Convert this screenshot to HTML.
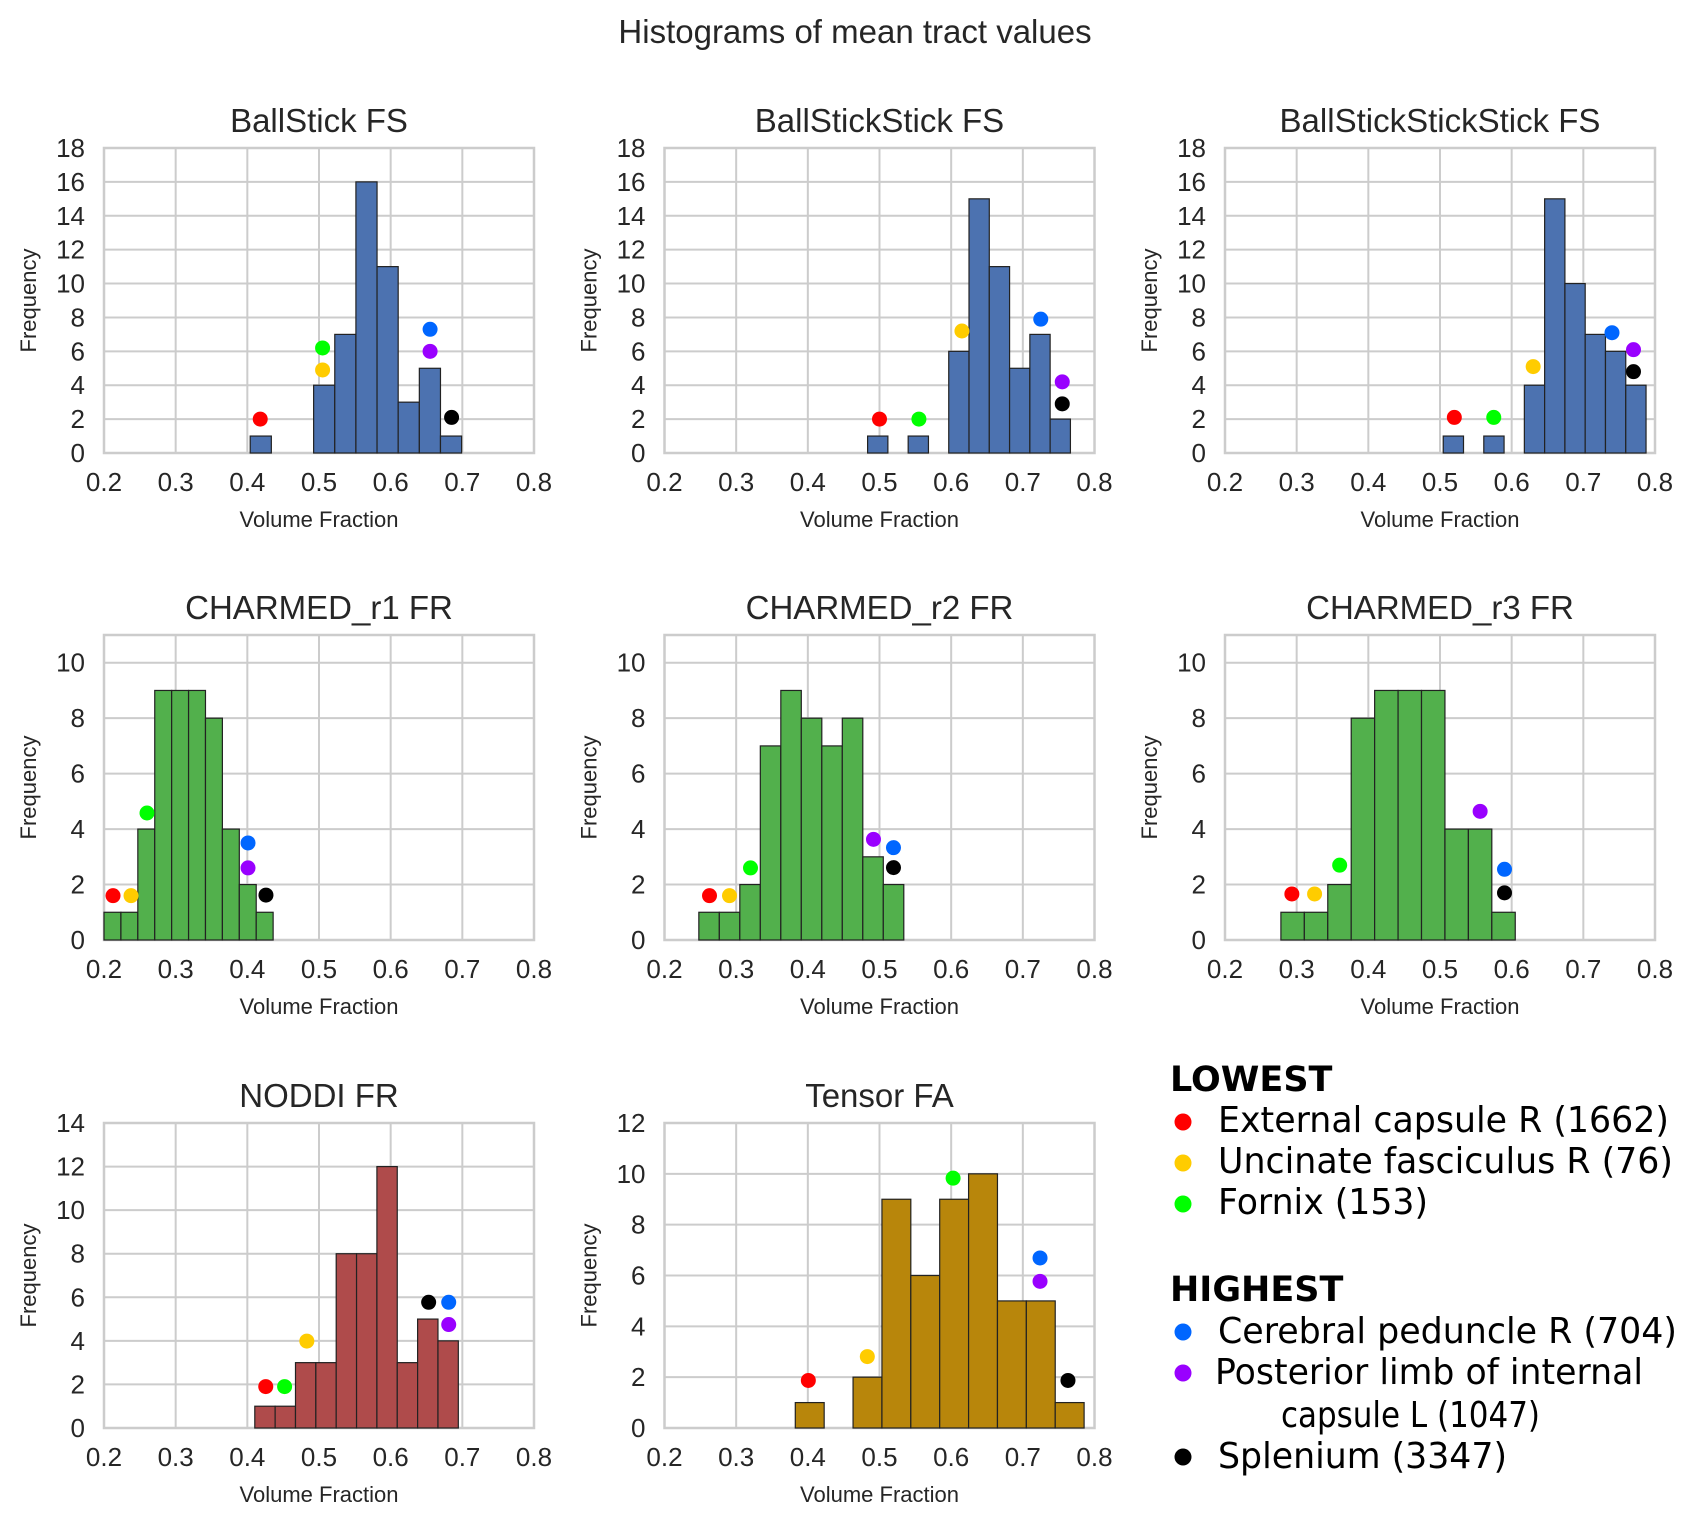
<!DOCTYPE html>
<html><head><meta charset="utf-8"><style>
html,body{margin:0;padding:0;background:#fff}
svg{display:block}
text{font-family:"Liberation Sans",Arial,sans-serif;fill:#262626}
.lg{font-family:"DejaVu Sans",sans-serif;fill:#000}
</style></head><body>
<svg id="fig" width="1693" height="1527" viewBox="0 0 1693 1527" xmlns="http://www.w3.org/2000/svg">
<text x="855" y="43" font-size="33" text-anchor="middle">Histograms of mean tract values</text>
<g id="legend" transform="translate(-4,0)">
<text class="lg" x="1174" y="1091" font-size="35" font-weight="bold">LOWEST</text>
<circle cx="1187" cy="1122" r="8.5" fill="#ff0000"/>
<text class="lg" x="1222" y="1132" font-size="36" textLength="451" lengthAdjust="spacingAndGlyphs">External capsule R (1662)</text>
<circle cx="1187" cy="1163" r="8.5" fill="#ffcc00"/>
<text class="lg" x="1222" y="1173" font-size="36" textLength="455" lengthAdjust="spacingAndGlyphs">Uncinate fasciculus R (76)</text>
<circle cx="1187" cy="1204" r="8.5" fill="#00ff00"/>
<text class="lg" x="1222" y="1214" font-size="36" textLength="210" lengthAdjust="spacingAndGlyphs">Fornix (153)</text>
<text class="lg" x="1174" y="1301" font-size="35" font-weight="bold">HIGHEST</text>
<circle cx="1187" cy="1332" r="8.5" fill="#0066ff"/>
<text class="lg" x="1222" y="1343" font-size="36" textLength="459" lengthAdjust="spacingAndGlyphs">Cerebral peduncle R (704)</text>
<circle cx="1187" cy="1373" r="8.5" fill="#9900ff"/>
<text class="lg" x="1219" y="1384" font-size="36" textLength="428" lengthAdjust="spacingAndGlyphs">Posterior limb of internal</text>
<text class="lg" x="1285" y="1427" font-size="36" textLength="259" lengthAdjust="spacingAndGlyphs">capsule L (1047)</text>
<circle cx="1187" cy="1457" r="8.5" fill="#000000"/>
<text class="lg" x="1222" y="1468" font-size="36" textLength="289" lengthAdjust="spacingAndGlyphs">Splenium (3347)</text>
</g>
</svg>
<script>
const titles = ["BallStick FS","BallStickStick FS","BallStickStickStick FS","CHARMED_r1 FR","CHARMED_r2 FR","CHARMED_r3 FR","NODDI FR","Tensor FA"];
const binStarts = [0.404,0.4834,0.5045,0.2,0.2479,0.278,0.4104,0.3825];
const binWidths = [0.0295,0.0283,0.0283,0.0236,0.0286,0.0327,0.0284,0.0403];
const counts0 = [1,0,0,4,7,16,11,3,5,1];
const counts1 = [1,0,1,0,6,15,11,5,7,2];
const counts2 = [1,0,1,0,4,15,10,7,6,4];
const counts3 = [1,1,4,9,9,9,8,4,2,1];
const counts4 = [1,1,2,7,9,8,7,8,3,2];
const counts5 = [1,1,2,8,9,9,9,4,4,1];
const counts6 = [1,1,3,3,8,8,12,3,5,4];
const counts7 = [1,0,2,9,6,9,10,5,5,1];
const yMaxes = [18,18,18,11,11,11,14,12];
const yTickMax = [18,18,18,10,10,10,14,12];
const xTicks = [0.2,0.3,0.4,0.5,0.6,0.7,0.8];
const xTickLabels = ["0.2","0.3","0.4","0.5","0.6","0.7","0.8"];
const dotNames = ["external-capsule","uncinate","fornix","cerebral-peduncle","posterior-limb","splenium"];
const dotColors = ["#ff0000","#ffcc00","#00ff00","#0066ff","#9900ff","#000000"];
const dotX0 = [0.418,0.505,0.505,0.655,0.655,0.685];
const dotY0 = [2.0,4.9,6.2,7.3,6.0,2.1];
const dotX1 = [0.5,0.615,0.555,0.725,0.755,0.755];
const dotY1 = [2.0,7.2,2.0,7.9,4.2,2.9];
const dotX2 = [0.52,0.63,0.575,0.74,0.77,0.77];
const dotY2 = [2.1,5.1,2.1,7.1,6.1,4.8];
const dotX3 = [0.2126,0.2377,0.26,0.401,0.401,0.426];
const dotY3 = [1.6,1.6,4.58,3.5,2.6,1.62];
const dotX4 = [0.2628,0.2907,0.32,0.5195,0.4916,0.5195];
const dotY4 = [1.6,1.6,2.6,3.33,3.63,2.61];
const dotX5 = [0.2933,0.325,0.36,0.59,0.556,0.59];
const dotY5 = [1.66,1.66,2.7,2.55,4.64,1.7];
const dotX6 = [0.4257,0.483,0.452,0.681,0.681,0.653];
const dotY6 = [1.9,3.99,1.9,5.77,4.75,5.77];
const dotX7 = [0.4007,0.483,0.6027,0.724,0.724,0.763];
const dotY7 = [1.87,2.81,9.83,6.69,5.77,1.87];
const allCounts=[counts0,counts1,counts2,counts3,counts4,counts5,counts6,counts7];
const allDX=[dotX0,dotX1,dotX2,dotX3,dotX4,dotX5,dotX6,dotX7];
const allDY=[dotY0,dotY1,dotY2,dotY3,dotY4,dotY5,dotY6,dotY7];
const barColors=["#4c72b0","#4c72b0","#4c72b0","#52b04c","#52b04c","#52b04c","#af4b4b","#b8860b"];
const colLeft=[104,664.5,1225], rowTop=[148,635,1123], W=430, H=305;
const NS="http://www.w3.org/2000/svg";
const svg=document.getElementById("fig");
function mk(tag,attrs,parent){const e=document.createElementNS(NS,tag);for(const k in attrs)e.setAttribute(k,attrs[k]);parent.appendChild(e);return e;}
for(let p=0;p<8;p++){
  const L=colLeft[p%3], T=rowTop[Math.floor(p/3)], B=T+H;
  const xs=v=>L+(v-0.2)/0.6*W;
  const ys=v=>B-v/yMaxes[p]*H;
  const slug=titles[p].toLowerCase().replace(/[^a-z0-9]+/g,"-");
  const g=mk("g",{},svg);
  
  
  const bg=mk("rect",{x:L,y:T,width:W,height:H,fill:"#fff"},g);
  
  
  const t=mk("text",{x:L+W/2,y:T-16,"font-size":33,"text-anchor":"middle"},g);
  t.textContent=titles[p];
  
  
  for(let i=0;i<xTicks.length;i++){
    const x=xs(xTicks[i]);
    const gl=mk("line",{x1:x,x2:x,y1:T,y2:B,stroke:"#cccccc","stroke-width":2},g);
    
    
    const tl=mk("text",{x:x,y:B+38,"font-size":26,"text-anchor":"middle"},g);
    tl.textContent=xTickLabels[i];
    
    
  }
  for(let v=0;v<=yTickMax[p];v+=2){
    const y=ys(v);
    const gl=mk("line",{x1:L,x2:L+W,y1:y,y2:y,stroke:"#cccccc","stroke-width":2},g);
    
    
    const tl=mk("text",{x:L-19,y:y+9,"font-size":26,"text-anchor":"end"},g);
    tl.textContent=String(v);
    
    
  }
  const fr=mk("rect",{x:L,y:T,width:W,height:H,fill:"none",stroke:"#cccccc","stroke-width":2.5},g);
  
  
  const c=allCounts[p];
  for(let i=0;i<c.length;i++){
    if(!c[i])continue;
    const x0=xs(binStarts[p]+i*binWidths[p]), x1=xs(binStarts[p]+(i+1)*binWidths[p]);
    const r=mk("rect",{x:x0,y:ys(c[i]),width:x1-x0,height:B-ys(c[i]),fill:barColors[p],stroke:"#222","stroke-width":1.2},g);
    
    
  }
  for(let k=0;k<6;k++){
    const d=mk("circle",{cx:xs(allDX[p][k]),cy:ys(allDY[p][k]),r:7.5,fill:dotColors[k]},g);
    
    
  }
  const xl=mk("text",{x:L+W/2,y:B+74,"font-size":22,"text-anchor":"middle"},g);
  xl.textContent="Volume Fraction";
  
  
  const yl=mk("text",{x:0,y:0,"font-size":22,"text-anchor":"middle",transform:"translate("+(L-68)+","+(T+H/2)+") rotate(-90)"},g);
  yl.textContent="Frequency";
  
  
}
</script>
</body></html>
